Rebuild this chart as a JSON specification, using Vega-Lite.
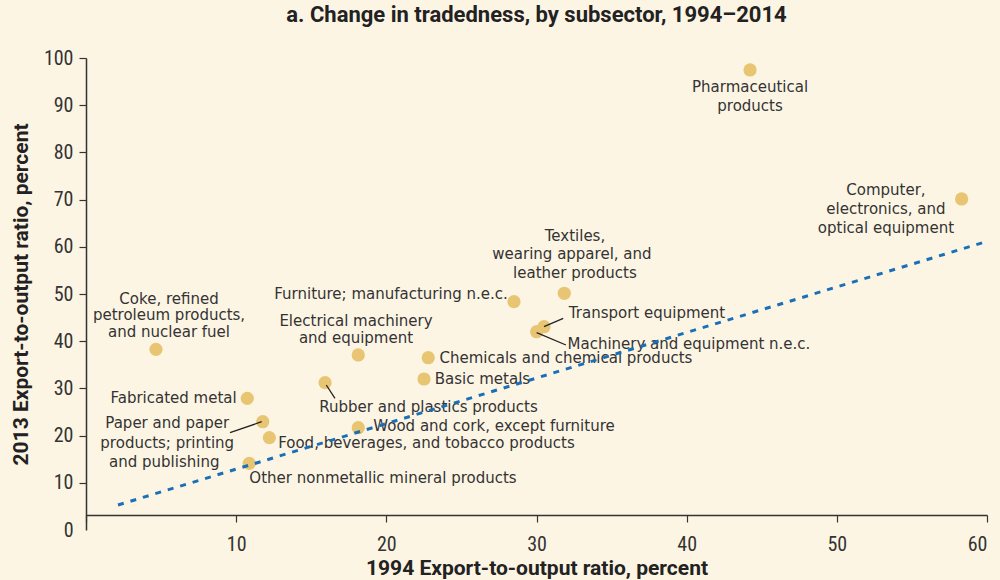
{
  "$schema": "https://vega.github.io/schema/vega-lite/v6.json",
  "width": 901,
  "height": 472,
  "autosize": {"type": "none"},
  "padding": {"left": 86, "top": 58, "right": 13, "bottom": 50},
  "background": "#fdf5e4",
  "config": {"view": {"stroke": null}},
  "title": {
    "text": "a. Change in tradedness, by subsector, 1994–2014",
    "font": "Roboto, sans-serif",
    "fontSize": 22,
    "fontWeight": "bold",
    "color": "#222222",
    "anchor": "middle",
    "offset": 21
  },
  "datasets": {
    "points": [
      {"name": "Pharmaceutical products", "x": 44.22, "y": 97.46},
      {"name": "Computer, electronics, and optical equipment", "x": 58.31, "y": 70.13},
      {"name": "Textiles, wearing apparel, and leather products", "x": 31.85, "y": 50.15},
      {"name": "Furniture; manufacturing n.e.c.", "x": 28.5, "y": 48.37},
      {"name": "Transport equipment", "x": 30.5, "y": 43.07},
      {"name": "Machinery and equipment n.e.c.", "x": 30.01, "y": 42.01},
      {"name": "Chemicals and chemical products", "x": 22.79, "y": 36.5},
      {"name": "Basic metals", "x": 22.51, "y": 31.99},
      {"name": "Electrical machinery and equipment", "x": 18.13, "y": 37.08},
      {"name": "Coke, refined petroleum products, and nuclear fuel", "x": 4.66, "y": 38.28},
      {"name": "Fabricated metal", "x": 10.74, "y": 27.9},
      {"name": "Paper and paper products; printing and publishing", "x": 11.77, "y": 22.94},
      {"name": "Food, beverages, and tobacco products", "x": 12.21, "y": 19.56},
      {"name": "Rubber and plastics products", "x": 15.92, "y": 31.21},
      {"name": "Wood and cork, except furniture", "x": 18.13, "y": 21.67},
      {"name": "Other nonmetallic mineral products", "x": 10.87, "y": 14.13}
    ],
    "trend": [
      {"x": 2.13, "y": 5.3},
      {"x": 59.87, "y": 61.02}
    ],
    "notes": [
      {"text": "Pharmaceutical", "x": 44.22, "y": 93.86},
      {"text": "products", "x": 44.22, "y": 89.83},
      {"text": "Computer,", "x": 53.27, "y": 72.03},
      {"text": "electronics, and", "x": 53.27, "y": 68.0},
      {"text": "optical equipment", "x": 53.27, "y": 63.98},
      {"text": "Textiles,", "x": 32.56, "y": 62.29},
      {"text": "wearing apparel, and", "x": 32.36, "y": 58.47},
      {"text": "leather products", "x": 32.56, "y": 54.45},
      {"text": "Furniture; manufacturing n.e.c.", "x": 20.31, "y": 50.0},
      {"text": "Transport equipment", "x": 37.36, "y": 45.97},
      {"text": "Machinery and equipment n.e.c.", "x": 40.15, "y": 39.4},
      {"text": "Chemicals and chemical products", "x": 31.96, "y": 36.4},
      {"text": "Basic metals", "x": 26.4, "y": 31.99},
      {"text": "Electrical machinery", "x": 17.98, "y": 44.2},
      {"text": "and equipment", "x": 17.98, "y": 40.7},
      {"text": "Coke, refined", "x": 5.53, "y": 48.9},
      {"text": "petroleum products,", "x": 5.53, "y": 45.45},
      {"text": "and nuclear fuel", "x": 5.53, "y": 42.0},
      {"text": "Fabricated metal", "x": 5.83, "y": 28.03},
      {"text": "Paper and paper", "x": 5.41, "y": 22.67},
      {"text": "products; printing", "x": 5.41, "y": 18.43},
      {"text": "and publishing", "x": 5.21, "y": 14.41},
      {"text": "Rubber and plastics products", "x": 22.81, "y": 26.13},
      {"text": "Wood and cork, except furniture", "x": 27.17, "y": 22.03},
      {"text": "Food, beverages, and tobacco products", "x": 22.67, "y": 18.36},
      {"text": "Other nonmetallic mineral products", "x": 19.78, "y": 11.02}
    ],
    "leaders": [
      {"x": 16.0, "y": 30.72, "x2": 16.58, "y2": 27.9},
      {"x": 30.5, "y": 43.07, "x2": 31.78, "y2": 44.85},
      {"x": 30.01, "y": 41.8, "x2": 31.96, "y2": 39.19},
      {"x": 9.59, "y": 20.62, "x2": 11.7, "y2": 22.94}
    ]
  },
  "encoding": {
    "x": {
      "field": "x",
      "type": "quantitative",
      "scale": {"domain": [0, 60], "nice": false, "zero": false},
      "axis": {
        "values": [0, 10, 20, 30, 40, 50, 60],
        "labelExpr": "datum.value == 0 ? '' : datum.label",
        "offset": -15,
        "grid": false,
        "domainColor": "#333333",
        "domainWidth": 1.5,
        "tickColor": "#333333",
        "tickWidth": 1.2,
        "tickSize": 7,
        "labelFont": "Roboto Condensed, Roboto, sans-serif",
        "labelFontSize": 20,
        "labelColor": "#333333",
        "labelPadding": 12,
        "title": "1994 Export-to-output ratio, percent",
        "titleFont": "Roboto, sans-serif",
        "titleFontSize": 21,
        "titleFontWeight": "bold",
        "titleColor": "#222222",
        "titlePadding": 3
      }
    },
    "y": {
      "field": "y",
      "type": "quantitative",
      "scale": {"domain": [0, 100], "nice": false, "zero": false},
      "axis": {
        "values": [0, 10, 20, 30, 40, 50, 60, 70, 80, 90, 100],
        "grid": false,
        "domainColor": "#333333",
        "domainWidth": 1.5,
        "tickColor": "#333333",
        "tickWidth": 1.2,
        "tickSize": 7,
        "tickOpacity": {"condition": {"test": "datum.value == 0", "value": 0}, "value": 1},
        "labelFont": "Roboto Condensed, Roboto, sans-serif",
        "labelFontSize": 20,
        "labelColor": "#333333",
        "labelPadding": 6,
        "title": "2013 Export-to-output ratio, percent",
        "titleFont": "Roboto, sans-serif",
        "titleFontSize": 21,
        "titleFontWeight": "bold",
        "titleColor": "#222222",
        "titlePadding": 12
      }
    }
  },
  "layer": [
    {
      "data": {"name": "points"},
      "mark": {"type": "circle", "size": 175, "color": "#e8c572", "opacity": 1}
    },
    {
      "data": {"name": "notes"},
      "mark": {"type": "text", "font": "DejaVu Sans", "fontSize": 15, "color": "#333333", "align": "center", "baseline": "middle"},
      "encoding": {"text": {"field": "text", "type": "nominal"}}
    },
    {
      "data": {"name": "leaders"},
      "mark": {"type": "rule", "color": "#222222", "strokeWidth": 1.3},
      "encoding": {
        "x2": {"field": "x2"},
        "y2": {"field": "y2"}
      }
    },
    {
      "data": {"name": "trend"},
      "mark": {"type": "line", "color": "#1a70b8", "strokeWidth": 3, "strokeDash": [6, 7]},
      "encoding": {}
    }
  ]
}
